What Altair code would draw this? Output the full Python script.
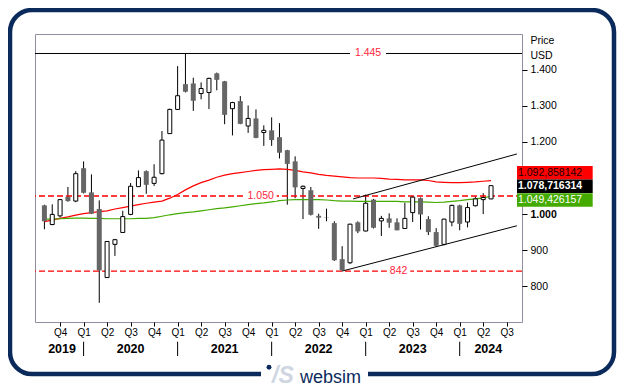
import altair as alt
import pandas as pd

FONT = "Liberation Sans"

# ---------------- data ----------------
opens = [1024, 971, 995, 1048, 1036, 1127, 1060, 1014, 824, 916,
         949, 999, 1076, 1119, 1085, 1112, 1223, 1290, 1360, 1362,
         1334, 1337, 1390, 1368, 1292, 1313, 1244, 1265, 1226, 1232,
         1213, 1177, 1146, 1071, 1066, 995, 990, 975, 875, 865,
         977, 953, 1040, 981, 988, 977, 960, 1004, 1044, 986,
         950, 916, 978, 1024, 978, 1023, 1040, 1042]
highs = [1026, 1027, 1042, 1075, 1119, 1146, 1110, 1038, 925, 931,
         1009, 1086, 1121, 1121, 1138, 1230, 1292, 1410, 1445, 1378,
         1365, 1378, 1392, 1369, 1311, 1327, 1301, 1290, 1246, 1268,
         1252, 1178, 1160, 1079, 1075, 1001, 1015, 980, 911, 973,
         980, 1054, 1042, 995, 1002, 988, 1031, 1048, 1046, 994,
         961, 987, 1026, 1026, 1032, 1049, 1058, 1079]
lows = [958, 969, 990, 1034, 1033, 1057, 1000, 754, 823, 884,
        948, 997, 1075, 1056, 1078, 1110, 1222, 1289, 1337, 1286,
        1318, 1291, 1343, 1249, 1218, 1249, 1225, 1210, 1189, 1189,
        1154, 1026, 1044, 986, 996, 959, 980, 870, 842, 862,
        947, 952, 960, 939, 962, 955, 959, 978, 957, 942,
        909, 913, 966, 955, 963, 1021, 1000, 1041]
closes = [980, 999, 1040, 1036, 1112, 1059, 1001, 844, 924, 929,
          993, 1077, 1101, 1081, 1102, 1205, 1290, 1328, 1339, 1314,
          1348, 1376, 1372, 1275, 1309, 1250, 1265, 1211, 1232, 1205,
          1170, 1139, 1074, 1077, 998, 990, 989, 872, 844, 972,
          952, 1030, 962, 988, 976, 955, 988, 1047, 999, 950,
          912, 986, 1024, 973, 1018, 1042, 1046, 1078.716314]

ma_red = [979, 983, 988, 992, 997, 1001, 1004, 1007, 1009, 1014,
          1018, 1022, 1026, 1030, 1033, 1036, 1044, 1054, 1067, 1078,
          1087, 1094, 1102, 1108, 1112, 1115, 1118, 1121, 1123, 1124,
          1125, 1124, 1121, 1117, 1114, 1110, 1107, 1105, 1103, 1101,
          1100, 1100, 1100, 1099, 1097, 1096, 1095, 1095, 1095, 1093,
          1089, 1088, 1087, 1087, 1088, 1089, 1091, 1092.858142]
ma_green = [986, 986, 987, 988, 989, 989, 988, 988, 987, 987,
            987, 987, 988, 988, 990, 994, 998, 1001, 1004, 1006,
            1009, 1012, 1015, 1017, 1020, 1023, 1026, 1029, 1031, 1034,
            1037, 1039, 1040, 1040, 1040, 1040, 1039, 1037, 1036, 1036,
            1035, 1035, 1035, 1035, 1035, 1035, 1034, 1034, 1034, 1033,
            1032, 1033, 1035, 1037, 1040, 1042, 1045, 1049.426157]

quarter_ticks = [2, 5, 8, 11, 14, 17, 20, 23, 26, 29, 32, 35, 38, 41, 44, 47, 50, 53, 56, 59]
quarter_labels = ["Q4", "Q1", "Q2", "Q3", "Q4", "Q1", "Q2", "Q3", "Q4", "Q1",
                  "Q2", "Q3", "Q4", "Q1", "Q2", "Q3", "Q4", "Q1", "Q2", "Q3"]
year_labels = ["2019", "2020", "2021", "2022", "2023", "2024"]
year_centers = [2.25, 11, 23, 35, 47, 56.65]
year_breaks = [5, 17, 29, 41, 53]
# 1.100 is hidden behind the last-value boxes in the reference
price_ticks = [800, 900, 1000, 1200, 1300, 1400]

level_values = [1445, 1050, 842]
level_texts = ["1.445", "1.050", "842"]
level_text_at = [41.3, 27.6, 45.2]
level_gap = [2.3, 2.05, 1.5]

channel_i = [39.4, 60.3, 38, 60.3]
channel_v = [1042, 1166.5, 842, 967.5]
channel_id = ["upper", "upper", "lower", "lower"]

last_texts = ["1.092,858142", "1.078,716314", "1.049,426157"]
last_box_mid = [1114.5, 1077.2, 1039.2]
last_fill = ["#ff0000", "#000000", "#44aa00"]
last_textcolor = ["#1a0000", "#ffffff", "#ffffff"]
last_bold = [False, True, False]

# ---------------- scales ----------------
W, H = 487, 288
X0, X1 = -0.5625, 60.3125
Y0, Y1 = 700.84, 1499.04
xs = alt.Scale(domain=[X0, X1], nice=False, zero=False)
ys = alt.Scale(domain=[Y0, Y1], nice=False, zero=False)

# ---------------- frames ----------------
n = len(opens)
candles = pd.DataFrame({"i": list(range(n)), "open": opens, "high": highs,
                        "low": lows, "close": closes})
up = candles[candles["close"] >= candles["open"]]
down = candles[candles["close"] < candles["open"]]
ma = pd.DataFrame({"i": list(range(n)), "red": ma_red, "green": ma_green})
levels = pd.DataFrame({"v": level_values, "t": level_texts, "at": level_text_at, "gap": level_gap})
levels["x1"] = levels["at"] - levels["gap"]
levels["x2"] = levels["at"] + levels["gap"]
levels["y1"] = levels["v"] - 14
levels["y2"] = levels["v"] + 14
channel = pd.DataFrame({"i": channel_i, "v": channel_v, "id": channel_id})
years = pd.DataFrame({"c": year_centers, "t": year_labels})
breaks = pd.DataFrame({"b": year_breaks})
last = pd.DataFrame({"t": last_texts, "m": last_box_mid, "fill": last_fill,
                     "tc": last_textcolor, "bold": last_bold})
last["y1"] = last["m"] - 18.8
last["y2"] = last["m"] + 18.8
last["x1"] = X1
last["x2"] = X1 + 9.66
last["xt"] = X1 + 0.12
one = pd.DataFrame({"k": [0]})


def X(f):
    return alt.X(f"{f}:Q", scale=xs)


def Y(f):
    return alt.Y(f"{f}:Q", scale=ys)


q_expr = ("[" + ",".join(f"'{q}'" for q in quarter_labels) + "][indexof("
          + str(quarter_ticks) + ", datum.value)]")

x_axis = alt.Axis(values=quarter_ticks, tickCount=len(quarter_ticks) + 5, labelExpr=q_expr,
                  tickSize=4, labelPadding=1,
                  domain=False, grid=False, title=None, labelFontSize=10, labelFont=FONT,
                  tickColor="black", labelColor="black", labelAngle=0,
                  labelFlush=False, labelOverlap=False, zindex=1)
y_axis = alt.Axis(orient="right", values=price_ticks, tickCount=len(price_ticks) + 5,
                  labelExpr="replace(format(datum.value, ','), ',', '.')",
                  tickSize=5, labelPadding=3, domain=False, grid=False,
                  title=["Price", "USD"], titleAngle=0, titleAlign="left",
                  titleBaseline="top", titleX=8, titleY=1, titleFontWeight="normal",
                  titleFontSize=10.5, titleFont=FONT, titleLineHeight=15, titleColor="black",
                  labelFontSize=10.5, labelFont=FONT, labelColor="black", tickColor="black",
                  labelFontWeight={"condition": {"test": "datum.value == 1000", "value": "bold"},
                                   "value": "normal"},
                  labelOverlap=False, zindex=1)

# level lines
lvl_black = alt.Chart(levels[levels["v"] == 1445]).mark_rule(color="black", strokeWidth=1).encode(y=Y("v"))
lvl_red = alt.Chart(levels[levels["v"] != 1445]).mark_rule(
    color="#ff0000", strokeWidth=1.3, strokeDash=[6, 3]).encode(y=Y("v"))
lvl_bg = alt.Chart(levels).mark_rect(color="white").encode(
    x=X("x1"), x2="x2", y=Y("y1"), y2="y2")
lvl_txt = alt.Chart(levels).mark_text(font=FONT, fontSize=10.5, color="#ff1e3c",
                                      baseline="middle", align="center").encode(
    x=X("at"), y=Y("v"), text="t:N")

# moving averages
red_line = alt.Chart(ma).mark_line(color="#ff0000", strokeWidth=1.2).encode(x=X("i"), y=Y("red"))
green_line = alt.Chart(ma).mark_line(color="#44aa00", strokeWidth=1.2).encode(x=X("i"), y=Y("green"))

# channel
chan = alt.Chart(channel).mark_line(color="black", strokeWidth=1).encode(
    x=X("i"), y=Y("v"), detail="id:N")

# candles (this layer carries the axes)
wicks = alt.Chart(candles).mark_rule(color="black", strokeWidth=1).encode(
    x=alt.X("i:Q", scale=xs, axis=x_axis),
    y=alt.Y("low:Q", scale=ys, axis=y_axis), y2="high")
body_down = alt.Chart(down).mark_bar(color="#666666", size=5).encode(
    x=X("i"), y=Y("open"), y2="close")
body_up = alt.Chart(up).mark_bar(fill="white", stroke="black", strokeWidth=1, size=4).encode(
    x=X("i"), y=Y("open"), y2="close")

# last value boxes
last_box = alt.Chart(last).mark_rect().encode(
    x=X("x1"), x2="x2", y=Y("y1"), y2="y2",
    color=alt.Color("fill:N", scale=None))
last_txt_n = alt.Chart(last[~last["bold"]]).mark_text(
    font=FONT, fontSize=10.5, align="left", baseline="middle").encode(
    x=X("xt"), y=Y("m"), text="t:N", color=alt.Color("tc:N", scale=None))
last_txt_b = alt.Chart(last[last["bold"]]).mark_text(
    font=FONT, fontSize=10.5, fontWeight="bold", align="left", baseline="middle").encode(
    x=X("xt"), y=Y("m"), text="t:N", color=alt.Color("tc:N", scale=None))

# year labels under the quarter axis
yr_txt = alt.Chart(years).mark_text(font=FONT, fontSize=12.5, fontWeight="bold",
                                    baseline="middle", align="center", color="black").encode(
    x=X("c"), y=alt.value(314.5), text="t:N")
yr_rule = alt.Chart(breaks).mark_rule(color="black", strokeWidth=1).encode(
    x=X("b"), y=alt.value(307.7), y2=alt.value(322))

# outer card + logo (decoration)
NAVY = "#0b2a5c"
card = alt.Chart(one).mark_rect(fill="transparent", stroke=NAVY, strokeWidth=4.5,
                                cornerRadius=22).encode(
    x=alt.value(-25), x2=alt.value(579), y=alt.value(-24), y2=alt.value(340))
gap = alt.Chart(one).mark_rect(color="white").encode(
    x=alt.value(226), x2=alt.value(333), y=alt.value(334), y2=alt.value(346))
dot = alt.Chart(one).mark_point(filled=True, shape="circle", size=24, color=NAVY, opacity=1).encode(
    x=alt.value(234), y=alt.value(333.3))
vs = alt.Chart(one).mark_text(text="/S", font=FONT, fontSize=23, fontStyle="italic",
                              fontWeight="bold", color="#cfd6e2", align="left",
                              baseline="alphabetic").encode(
    x=alt.value(237), y=alt.value(349))
web = alt.Chart(one).mark_text(text="websim", font=FONT, fontSize=18, color=NAVY,
                               align="left", baseline="alphabetic").encode(
    x=alt.value(265), y=alt.value(349))

chart = alt.layer(
    card, gap, dot, vs, web,
    wicks,
    lvl_black, lvl_red, red_line, green_line, chan, lvl_bg, lvl_txt,
    body_down, body_up,
    last_box, last_txt_n, last_txt_b, yr_rule, yr_txt,
).properties(
    width=W, height=H,
    padding={"left": 27, "top": 26, "right": 99, "bottom": 66},
    autosize=alt.AutoSizeParams(type="none"),
    background="white",
).configure_view(stroke="#8e8e9e", strokeWidth=1)

chart.save("out.html", embed_options={"renderer": "svg", "actions": False})
